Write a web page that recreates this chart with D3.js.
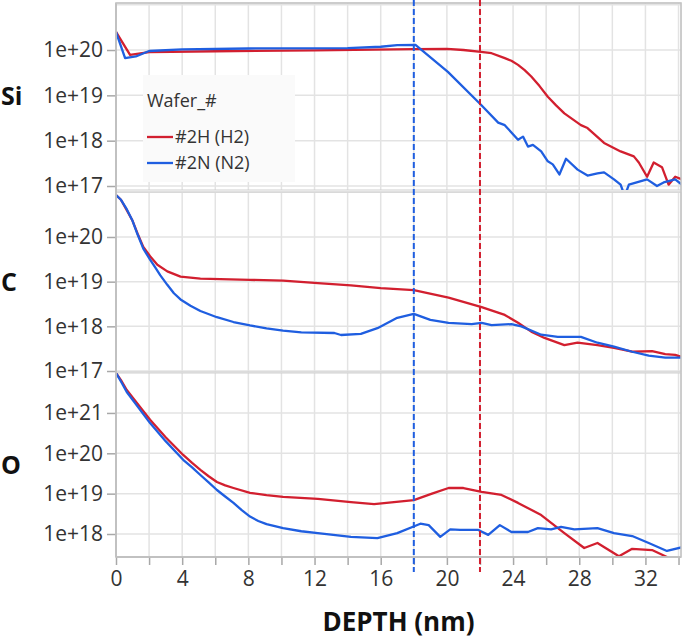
<!DOCTYPE html>
<html>
<head>
<meta charset="utf-8">
<title>Depth profile Si / C / O</title>
<script src="https://d3js.org/d3.v7.min.js"></script>
<style>
  body { margin: 0; background: #fff; }
  text { font-family: "Open Sans", "Noto Sans", sans-serif; fill: #333; }
</style>
</head>
<body>
<div id="chart"></div>
<script>

// depth (nm), concentration (atoms/cm3)
var siH2 = [[0,2.5e20],[0.85,7.8e19],[2,9e19],[6,9.4e19],[12,9.8e19],[18,1.05e20],[20,1.06e20],[21,1.0e20],
  [22.06,9.1e19],[22.7,8.5e19],[23.5,6.6e19],[23.9,5.8e19],[24.3,4.7e19],[24.7,3.6e19],[25.1,2.6e19],
  [25.6,1.6e19],[26.1,9.3e18],[26.6,6.0e18],[27.1,4.0e18],
  [28.1,2.2e18],[28.5,1.9e18],[29.5,8.9e17],[30.5,5.8e17],[31.3,4.5e17],[31.6,3.3e17],[32.1,1.6e17],
  [32.5,3.3e17],[33.0,2.6e17],[33.4,1.07e17],[33.8,1.6e17],[34.3,1.35e17]];
var siN2 = [[0,2.5e20],[0.55,6.6e19],[1.2,7.2e19],[2,9.5e19],[4,1.03e20],[8,1.08e20],[14,1.1e20],[16,1.18e20],
  [17,1.28e20],[18.1,1.3e20],[20.06,3.3e19],[22.06,6.2e18],[23.1,2.5e18],[23.5,2.2e18],[24.3,1.05e18],
  [24.6,1.23e18],[24.9,7.4e17],[25.2,8.1e17],[25.7,5.8e17],[26.1,3.5e17],[26.4,3.0e17],[26.8,1.8e17],
  [27.2,4.0e17],[27.9,2.3e17],[28.5,1.7e17],[29.1,1.9e17],[29.5,2.0e17],[30.1,1.4e17],[30.5,1.07e17],
  [30.75,6e16],[31.0,1.07e17],[32.1,1.4e17],[32.7,1.0e17],[33.1,1.2e17],[33.8,1.4e17],[34.2,1.07e17]];

var cH2 = [[0,8.7e20],[0.3,6.8e20],[0.65,4.0e20],[1.0,2.3e20],[1.3,1.2e20],[1.65,6.0e19],[2.06,3.7e19],
  [2.5,2.4e19],[3.1,1.7e19],[3.9,1.3e19],[5.1,1.17e19],[8.1,1.1e19],[10.1,1.05e19],[12.2,9.3e18],
  [14.2,8.3e18],[16,7.2e18],[18,6.5e18],
  [20.1,4.4e18],[22.1,2.7e18],[23.5,1.8e18],[24.3,1.2e18],[25.1,7.6e17],[25.9,5.5e17],[27.1,3.8e17],
  [27.9,4.3e17],[29.1,3.8e17],[30.1,3.3e17],[31.2,2.7e17],[32.4,2.8e17],[33.2,2.4e17],[33.8,2.3e17],[34.3,2.0e17]];
var cN2 = [[0,8.7e20],[0.3,6.8e20],[0.65,4.2e20],[1.0,2.3e20],[1.3,1.15e20],[1.65,5.5e19],[2.06,3.1e19],
  [2.4,2.0e19],[2.67,1.4e19],[3.1,8.5e18],[3.5,5.5e18],[3.9,4.0e18],[4.5,2.9e18],[5.1,2.2e18],
  [6.1,1.6e18],[7.1,1.25e18],[8.1,1.05e18],[9.1,9e17],[10.1,8.0e17],[11.2,7.3e17],
  [13.2,7.1e17],[13.6,6.4e17],[14.8,6.8e17],[15.8,9.1e17],[17,1.55e18],[18,1.9e18],[19,1.4e18],
  [20.1,1.2e18],[21.5,1.12e18],[22.1,1.2e18],[22.7,1.07e18],[23.9,1.12e18],[24.5,1.0e18],[25.7,6.5e17],
  [26.7,5.8e17],[28.1,5.8e17],[29.1,4.3e17],[30.1,3.5e17],[31.2,2.7e17],[32.2,2.2e17],[33.2,2.0e17],[34.3,2.0e17]];

var oH2 = [[0,9.8e21],[0.3,6.5e21],[0.65,3.7e21],[1.3,1.7e21],[2.06,6.8e20],[3.0,2.5e20],[4.06,9.1e19],
  [4.6,5.8e19],[5.1,3.9e19],[5.6,2.7e19],[6.1,1.95e19],[6.6,1.6e19],[7.1,1.38e19],
  [8.1,1.05e19],[9.1,9.2e18],[10.1,8.3e18],[12.2,7.4e18],[14.2,6.2e18],[15.6,5.5e18],[18,6.9e18],
  [19.1,1.0e19],[20.1,1.38e19],
  [21.0,1.38e19],[22.1,1.1e19],[23.3,9.3e18],[24.3,5.9e18],[25.7,2.95e18],[27.1,1.05e18],[28.3,4.5e17],
  [29.1,6.0e17],[30.4,2.8e17],[31.2,4.3e17],[32.4,4.0e17],[33.3,2.7e17],[33.5,2.3e17]];
var oN2 = [[0,9.8e21],[0.3,6.0e21],[0.65,3.3e21],[1.3,1.45e21],[2.06,5.6e20],[3.0,2.0e20],[4.06,6.9e19],
  [4.6,4.5e19],[5.1,2.9e19],[5.6,1.9e19],[6.1,1.23e19],[6.6,8.5e18],[7.1,5.9e18],[7.6,3.9e18],
  [8.1,2.7e18],[8.6,2.1e18],[9.1,1.75e18],[10.1,1.4e18],[11.2,1.17e18],[12.2,1.05e18],[14.2,8.5e17],
  [15.8,7.9e17],[17,1.05e18],
  [18.1,1.6e18],[18.4,1.8e18],[18.9,1.66e18],[19.6,8.5e17],[20.2,1.3e18],[20.8,1.26e18],[21.9,1.26e18],
  [22.5,9.5e17],[23.2,1.66e18],[23.9,1.12e18],[24.9,1.12e18],[25.5,1.4e18],[26.3,1.3e18],[26.9,1.5e18],
  [27.7,1.3e18],[29.1,1.4e18],[30.1,1.05e18],[31.2,8.9e17],[32.2,6.0e17],[33.3,3.8e17],[34.3,4.8e17]];

var waferNames = ["#2H (H2)", "#2N (N2)"];
var elements = ["Si", "C", "O"];
var siTickExp = [20, 19, 18, 17];
var cTickExp = [20, 19, 18, 17];
var oTickExp = [21, 20, 19, 18];
var xTickValues = [0, 4, 8, 12, 16, 20, 24, 28, 32];
var markerDepths = [18, 22];   // blue, red dashed lines

var colors = ["#d21f2f", "#1f5ee0"];

var W = 685, H = 639;
var plot = {left: 116, right: 681, top: 3, bottom: 557};

// panel placement and log axis extents (exponents)
var panels = [
  {name: elements[0], y0: 3,   y1: 190, lo: 16.912, hi: 21.037, ticks: siTickExp, data: [siH2, siN2]},
  {name: elements[1], y0: 192, y1: 372, lo: 16.978, hi: 21.007, ticks: cTickExp,  data: [cH2, cN2]},
  {name: elements[2], y0: 373, y1: 557, lo: 17.43,  hi: 21.99,  ticks: oTickExp,  data: [oH2, oN2]}
];

var svg = d3.select("#chart").append("svg")
    .attr("width", W)
    .attr("height", H);

var x = d3.scaleLinear()
    .domain([0, 34.15])
    .range([plot.left, plot.right]);

var defs = svg.append("defs");

panels.forEach(function(p, i) {
  var y = d3.scaleLog()
      .domain([Math.pow(10, p.lo), Math.pow(10, p.hi)])
      .range([p.y1, p.y0]);
  p.y = y;

  defs.append("clipPath").attr("id", "clip" + i)
    .append("rect")
      .attr("x", plot.left).attr("y", p.y0)
      .attr("width", plot.right - plot.left).attr("height", p.y1 - p.y0);

  var g = svg.append("g").attr("class", "panel");

  // vertical grid every 2 nm
  g.selectAll(".vgrid")
      .data(d3.range(2, 35, 2))
    .enter().append("line")
      .attr("x1", function(d) { return x(d); })
      .attr("x2", function(d) { return x(d); })
      .attr("y1", p.y0).attr("y2", p.y1)
      .style("stroke", "#e3e3e3").style("stroke-width", 1.5);

  // horizontal grid at each decade inside the panel
  var decades = d3.range(Math.ceil(p.lo), Math.floor(p.hi) + 1);
  g.selectAll(".hgrid")
      .data(decades)
    .enter().append("line")
      .attr("x1", plot.left).attr("x2", plot.right)
      .attr("y1", function(d) { return y(Math.pow(10, d)); })
      .attr("y2", function(d) { return y(Math.pow(10, d)); })
      .style("stroke", "#e3e3e3").style("stroke-width", 1.5);

  // panel frame
  g.append("rect")
      .attr("x", plot.left).attr("y", p.y0)
      .attr("width", plot.right - plot.left).attr("height", p.y1 - p.y0)
      .style("fill", "none").style("stroke", "#cfcfcf").style("stroke-width", 1);

  // y axis ticks + labels
  var yAxis = d3.axisLeft(y)
      .tickValues(p.ticks.map(function(e) { return Math.pow(10, e); }))
      .tickFormat(function(d) { return "1e+" + Math.round(Math.log10(d)); })
      .tickSize(9)
      .tickPadding(4);
  var ag = g.append("g")
      .attr("transform", "translate(" + plot.left + ",0)")
      .call(yAxis);
  ag.select(".domain").remove();
  ag.selectAll(".tick line").style("stroke", "#a8a8a8").style("stroke-width", 1.5);
  ag.selectAll(".tick text")
      .style("font-size", "21px")
      .style("fill", "#333")
      .style("font-family", "'Open Sans', sans-serif");

  // element name
  g.append("text")
      .attr("x", 1)
      .attr("y", (p.y0 + p.y1) / 2)
      .attr("dy", "0.35em")
      .style("font-size", "25px")
      .style("font-weight", "bold")
      .style("fill", "#111")
      .text(p.name);
});

// curves
var line = d3.line()
    .x(function(d) { return x(d[0]); });

panels.forEach(function(p, i) {
  var cg = svg.append("g").attr("clip-path", "url(#clip" + i + ")");
  p.data.forEach(function(s, k) {
    cg.append("path")
        .datum(s)
        .attr("d", line.y(function(d) { return p.y(d[1]); }))
        .style("fill", "none")
        .style("stroke", colors[k])
        .style("stroke-width", 2.3)
        .style("stroke-linejoin", "round");
  });
});

// left + bottom axis lines
svg.append("line")
    .attr("x1", plot.left).attr("x2", plot.left)
    .attr("y1", plot.top).attr("y2", plot.bottom)
    .style("stroke", "#a8a8a8").style("stroke-width", 1.5);

var xAxis = d3.axisBottom(x)
    .tickValues(d3.range(0, 35, 2))
    .tickFormat(function(d) { return xTickValues.indexOf(d) >= 0 ? d : ""; })
    .tickSize(8)
    .tickPadding(6);
var xg = svg.append("g")
    .attr("transform", "translate(0," + plot.bottom + ")")
    .call(xAxis);
xg.select(".domain").attr("d", "M" + plot.left + ",0H" + plot.right)
    .style("stroke", "#a8a8a8").style("stroke-width", 1.5);
xg.selectAll(".tick line").style("stroke", "#a8a8a8").style("stroke-width", 1.5);
xg.selectAll(".tick text")
    .style("font-size", "21px")
    .style("fill", "#333")
    .style("font-family", "'Open Sans', sans-serif");

// outer top/right frame
svg.append("rect")
    .attr("x", plot.left).attr("y", plot.top)
    .attr("width", plot.right - plot.left).attr("height", plot.bottom - plot.top)
    .style("fill", "none").style("stroke", "#c4c4c4").style("stroke-width", 1.5);

// dashed depth markers
svg.selectAll(".marker")
    .data(markerDepths)
  .enter().append("line")
    .attr("x1", function(d) { return x(d); })
    .attr("x2", function(d) { return x(d); })
    .attr("y1", 0).attr("y2", 572)
    .style("stroke", function(d, i) { return colors[1 - i]; })
    .style("stroke-width", 2)
    .style("stroke-dasharray", "6,3");

// x label
svg.append("text")
    .attr("x", (plot.left + plot.right) / 2)
    .attr("y", 631)
    .style("text-anchor", "middle")
    .style("font-size", "26px")
    .style("font-weight", "bold")
    .style("fill", "#111")
    .text("DEPTH (nm)");

// legend
var lg = svg.append("g").attr("transform", "translate(143,75)");
lg.append("rect")
    .attr("width", 152).attr("height", 107)
    .style("fill", "#fafafa");
lg.append("text")
    .attr("x", 4).attr("y", 32)
    .style("font-size", "18px")
    .text("Wafer_#");
waferNames.forEach(function(n, k) {
  lg.append("line")
      .attr("x1", 4).attr("x2", 30)
      .attr("y1", 62 + k * 26).attr("y2", 62 + k * 26)
      .style("stroke", colors[k]).style("stroke-width", 2.3);
  lg.append("text")
      .attr("x", 32).attr("y", 62 + k * 26)
      .attr("dy", "0.35em")
      .style("font-size", "18px")
      .text(n);
});

</script>
</body>
</html>
